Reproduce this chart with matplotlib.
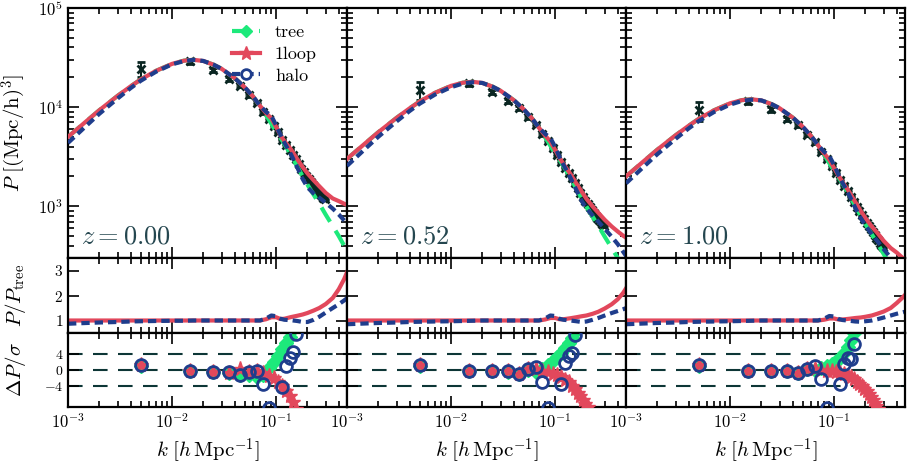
import numpy as np
import matplotlib
matplotlib.use('Agg')
import matplotlib.pyplot as plt
from matplotlib.lines import Line2D
from matplotlib.ticker import LogLocator, NullFormatter

plt.rcParams['font.family'] = 'serif'
plt.rcParams['font.serif'] = ['cmr10']
plt.rcParams['mathtext.fontset'] = 'cm'
plt.rcParams['axes.formatter.use_mathtext'] = True

# colours
c_tree = '#1de97b'
c_loop = '#e2485c'
c_halo = '#1f3d8c'
c_data = '#0a2622'
c_text = '#24464f'

redshift_labels = ['$z = 0.00$', '$z = 0.52$', '$z = 1.00$']

# model grid
k_grid = [0.001, 0.0015, 0.002, 0.003, 0.004, 0.005, 0.007, 0.01, 0.013, 0.016,
          0.02, 0.025, 0.03, 0.04, 0.05, 0.06, 0.07, 0.08, 0.09, 0.1, 0.11, 0.12,
          0.14, 0.16, 0.18, 0.2, 0.23, 0.26, 0.3, 0.35, 0.4, 0.45, 0.5]

tree_z0 = [5000, 7200, 9300, 13000, 16200, 19000, 23200, 27300, 29400, 30000,
           29200, 26800, 24300, 19600, 15800, 12800, 10300, 8300, 6800, 5600, 4900,
           4250, 3250, 2500, 2000, 1650, 1300, 1060, 820, 630, 500, 400, 325]
tree_z052 = [3000, 4320, 5580, 7800, 9720, 11400, 13920, 16380, 17640, 18000,
             17520, 16080, 14580, 11760, 9480, 7680, 6180, 4980, 4080, 3360, 2940,
             2550, 1950, 1500, 1200, 990, 780, 636, 492, 378, 300, 240, 195]
tree_z1 = [2000, 2880, 3720, 5200, 6480, 7600, 9280, 10920, 11760, 12000,
           11680, 10720, 9720, 7840, 6320, 5120, 4120, 3320, 2720, 2240, 1960,
           1700, 1300, 1000, 800, 660, 520, 424, 328, 252, 200, 160, 130]

# P / P_tree
loop_ratio_z0 = [1.0, 1.0, 1.0, 1.0, 1.0, 1.0, 1.0, 1.0, 1.0, 1.0, 1.0, 1.0, 1.0,
                 1.0, 1.0, 1.0, 1.0, 1.05, 1.13, 1.13, 1.06, 1.07, 1.14, 1.19, 1.24,
                 1.3, 1.4, 1.5, 1.66, 1.9, 2.25, 2.65, 3.1]
halo_ratio_z0 = [0.87, 0.9, 0.92, 0.94, 0.96, 0.97, 0.98, 0.99, 0.99, 1.0, 1.0,
                 1.0, 1.0, 1.0, 1.0, 1.0, 1.0, 1.08, 1.2, 1.17, 1.07, 1.03, 1.01,
                 0.98, 0.94, 0.94, 1.03, 1.15, 1.32, 1.5, 1.65, 1.8, 1.95]
loop_ratio_z052 = [1.0, 1.0, 1.0, 1.0, 1.0, 1.0, 1.0, 1.0, 1.0, 1.0, 1.0, 1.0, 1.0,
                   1.0, 1.0, 1.0, 1.0, 1.04, 1.1, 1.1, 1.05, 1.05, 1.09, 1.13, 1.17,
                   1.2, 1.27, 1.35, 1.48, 1.65, 1.85, 2.1, 2.4]
halo_ratio_z052 = [0.85, 0.88, 0.9, 0.92, 0.94, 0.95, 0.96, 0.97, 0.98, 0.99, 1.0,
                   1.0, 1.0, 1.0, 1.0, 1.0, 1.0, 1.08, 1.2, 1.18, 1.07, 1.03, 1.0,
                   0.97, 0.94, 0.96, 1.03, 1.1, 1.2, 1.3, 1.38, 1.45, 1.52]
loop_ratio_z1 = [1.0, 1.0, 1.0, 1.0, 1.0, 1.0, 1.0, 1.0, 1.0, 1.0, 1.0, 1.0, 1.0,
                 1.0, 1.0, 1.0, 1.0, 1.03, 1.08, 1.08, 1.04, 1.04, 1.07, 1.1, 1.12,
                 1.15, 1.2, 1.27, 1.36, 1.5, 1.7, 1.9, 2.1]
halo_ratio_z1 = [0.85, 0.88, 0.9, 0.92, 0.94, 0.95, 0.96, 0.97, 0.98, 0.99, 1.0,
                 1.0, 1.0, 1.0, 1.0, 1.0, 1.0, 1.07, 1.18, 1.16, 1.06, 1.02, 0.99,
                 0.96, 0.95, 0.97, 1.0, 1.05, 1.12, 1.2, 1.27, 1.32, 1.37]

# measured spectrum
k_data = [0.005, 0.015, 0.025, 0.035, 0.045, 0.055, 0.065, 0.075, 0.085, 0.095,
          0.105, 0.115, 0.125, 0.135, 0.145, 0.155, 0.165, 0.175, 0.185, 0.195,
          0.205, 0.215, 0.225, 0.235, 0.245, 0.255, 0.265, 0.275, 0.285, 0.295]

data_z0 = [24500, 28900, 23900, 19100, 16400, 13100, 11000, 8850, 7650, 6500,
           5550, 4700, 4170, 3720, 3300, 2960, 2650, 2390, 2200, 2010,
           1870, 1750, 1640, 1530, 1450, 1390, 1320, 1270, 1220, 1170]
err_z0 = [4200, 1500, 1100, 800, 600, 450, 350, 250, 180, 140, 110, 90, 70, 60, 50,
          45, 40, 35, 30, 28, 26, 24, 22, 20, 19, 18, 17, 16, 15, 15]
data_z052 = [14800, 17400, 14300, 11500, 9800, 7900, 6600, 5300, 4550, 3850,
             3280, 2780, 2450, 2170, 1920, 1710, 1530, 1370, 1250, 1140,
             1050, 980, 910, 850, 800, 760, 720, 690, 660, 630]
err_z052 = [3000, 1000, 700, 500, 380, 280, 220, 160, 110, 85, 66, 54, 42, 36, 30,
            27, 24, 21, 18, 17, 16, 14, 13, 12, 11, 11, 10, 10, 9, 9]
data_z1 = [9300, 11500, 9500, 7650, 6550, 5250, 4400, 3530, 3000, 2520,
           2150, 1830, 1610, 1420, 1250, 1110, 990, 890, 810, 740,
           680, 630, 585, 545, 510, 480, 452, 428, 405, 385]
err_z1 = [2000, 700, 480, 340, 260, 190, 150, 110, 75, 58, 45, 37, 29, 24, 20, 18,
          16, 14, 12, 11, 10, 9, 9, 8, 8, 7, 7, 7, 6, 6]

# Delta P / sigma
res_tree_z0 = [1.0, -0.3, -0.5, -0.8, -1.3, -1.2, -1.6, -1.2, 0.5, 2.0, 3.5, 5.0,
               6.5, 8.0, 10, 12, 14, 16, 18, 20, 22, 24, 26, 28, 30, 32, 34, 36, 38, 40]
res_loop_z0 = [1.1, -0.3, -0.5, -0.7, 0.3, -0.4, -0.2, -0.8, -1.5, -2.0, -2.8, -3.8,
               -5.0, -6.3, -7.8, -9.5, -11, -13, -15, -17, -19, -21, -23, -25, -27,
               -29, -31, -33, -35, -37]
res_halo_z0 = [1.2, -0.2, -0.4, -0.6, -1.2, -0.5, -0.2, -3.3, -9.2, -15, -15, -4.2,
               1.0, 3.0, 4.3, 8.8, 12, 15, 18, 21, 24, 27, 30, 33, 36, 39, 42, 45, 48, 51]
res_tree_z052 = [1.0, -0.2, -0.3, -0.4, -1.0, 0.0, -0.5, 0.2, 1.2, 2.2, 3.2, 4.2,
                 5.3, 6.5, 7.8, 9.2, 11, 13, 15, 17, 19, 21, 23, 25, 27, 29, 31, 33, 35, 37]
res_loop_z052 = [1.1, -0.2, -0.2, -0.3, -0.9, 0.2, 0.3, -0.3, -0.6, -0.9, -1.3, -1.8,
                 -2.4, -3.0, -3.8, -4.6, -5.5, -6.4, -7.3, -8.2, -9.1, -10, -11, -12,
                 -13, -14, -15, -16, -17, -18]
res_halo_z052 = [1.2, -0.2, -0.2, -0.3, -1.0, 0.3, 0.7, -2.9, -9.2, -15, -15, -3.4,
                 1.8, 3.3, 4.2, 8.5, 12, 14, 16, 18, 20, 22, 24, 26, 28, 30, 32, 34, 36, 38]
res_tree_z1 = [1.0, -0.2, -0.2, -0.3, -0.8, 0.2, 0.0, 0.5, 1.0, 1.5, 2.2, 3.0, 4.2,
               5.6, 7.2, 9.0, 11, 13, 15, 17, 19, 21, 23, 25, 27, 29, 31, 33, 35, 37]
res_loop_z1 = [1.1, -0.2, -0.2, -0.2, -0.7, 0.2, 0.3, -0.1, -0.2, -0.3, -0.5, -0.7,
               -1.0, -1.4, -1.8, -2.3, -2.8, -3.3, -3.9, -4.5, -5.2, -5.9, -6.6, -7.3,
               -8.0, -8.8, -9.6, -10.5, -11.5, -12.5]
res_halo_z1 = [1.2, -0.2, -0.2, -0.2, -0.8, 0.3, 0.9, -2.3, -9.2, -15, -15, -3.5,
               1.5, 2.8, 2.6, 6.3, 11, 14, 16, 18, 20, 22, 24, 26, 28, 30, 32, 34, 36, 38]

trees = [tree_z0, tree_z052, tree_z1]
loop_ratios = [loop_ratio_z0, loop_ratio_z052, loop_ratio_z1]
halo_ratios = [halo_ratio_z0, halo_ratio_z052, halo_ratio_z1]
datas = [data_z0, data_z052, data_z1]
errs = [err_z0, err_z052, err_z1]
res_trees = [res_tree_z0, res_tree_z052, res_tree_z1]
res_loops = [res_loop_z0, res_loop_z052, res_loop_z1]
res_halos = [res_halo_z0, res_halo_z052, res_halo_z1]

fig = plt.figure(figsize=(9.07, 4.67), dpi=100)
gs = fig.add_gridspec(3, 3, height_ratios=[250, 75, 74], hspace=0, wspace=0,
                      left=68/907, right=905/907, top=1-8/467, bottom=1-407/467)

kmin, kmax = 1e-3, 0.48
ylab_x = -0.145

def style(ax, labelsize):
    ax.set_xscale('log')
    ax.set_xlim(kmin, kmax)
    ax.xaxis.set_major_locator(LogLocator(base=10, numticks=10))
    ax.xaxis.set_minor_locator(LogLocator(base=10, subs=np.arange(2, 10), numticks=10))
    ax.xaxis.set_minor_formatter(NullFormatter())
    ax.tick_params(which='both', direction='in', top=True, right=True, width=1.2)
    ax.tick_params(which='major', length=8, labelsize=labelsize)
    ax.tick_params(which='minor', length=4)
    for s in ax.spines.values():
        s.set_linewidth(1.6)

k_g = np.array(k_grid)
for col in range(3):
    tree = np.array(trees[col])
    lr = np.array(loop_ratios[col])
    hr = np.array(halo_ratios[col])

    # main panel
    ax = fig.add_subplot(gs[0, col])
    ax.errorbar(k_data, datas[col], yerr=errs[col], fmt='x', color=c_data, ms=6,
                mew=2, elinewidth=1.5, capsize=3, capthick=1.5, zorder=2)
    ax.plot(k_g, tree, '--', color=c_tree, lw=3, dashes=(4, 2.5), zorder=3)
    ax.plot(k_g, tree * lr, '-', color=c_loop, lw=3, zorder=4)
    ax.plot(k_g, tree * hr, '--', color=c_halo, lw=3, dashes=(2, 1.2), zorder=5)
    ax.set_yscale('log')
    ax.set_ylim(300, 1e5)
    style(ax, 12)
    ax.tick_params(labelbottom=False)
    ax.text(0.045, 0.04, redshift_labels[col], transform=ax.transAxes, fontsize=19,
            color=c_text, ha='left', va='bottom')
    if col == 0:
        ax.set_ylabel(r'$P\ [(\mathrm{Mpc/h})^3]$', fontsize=15)
        ax.yaxis.set_label_coords(ylab_x, 0.5)
        handles = [
            Line2D([], [], color=c_tree, ls='--', lw=3, dashes=(4, 2.5), marker='D', ms=6),
            Line2D([], [], color=c_loop, ls='-', lw=3, marker='*', ms=10),
            Line2D([], [], color=c_halo, ls='--', lw=3, dashes=(2, 1.2), marker='o',
                   ms=7, mfc='white', mew=2),
        ]
        ax.legend(handles, ['tree', '1loop', 'halo'], loc='upper right',
                  bbox_to_anchor=(0.95, 1.0), frameon=False, fontsize=13,
                  handlelength=1.6, labelspacing=0.35, handletextpad=0.8)
    else:
        ax.tick_params(labelleft=False)

    # ratio panel
    axr = fig.add_subplot(gs[1, col])
    axr.plot(k_g, lr, '-', color=c_loop, lw=3)
    axr.plot(k_g, hr, '--', color=c_halo, lw=3, dashes=(2, 1.2))
    axr.set_ylim(0.5, 3.5)
    axr.set_yticks([1, 2, 3])
    style(axr, 11)
    axr.tick_params(labelbottom=False)
    if col == 0:
        axr.set_ylabel(r'$P/P_{\rm tree}$', fontsize=15)
        axr.yaxis.set_label_coords(ylab_x, 0.5)
    else:
        axr.tick_params(labelleft=False)

    # residual panel
    axs = fig.add_subplot(gs[2, col])
    for lev in [4, 0, -4]:
        axs.axhline(lev, color='#0d3636', lw=1.5, dashes=(7, 5), zorder=1)
    axs.plot(k_data, res_trees[col], 'D', color=c_tree, ms=7, zorder=2)
    axs.plot(k_data, res_loops[col], '*', color=c_loop, ms=11, zorder=3)
    axs.plot(k_data, res_halos[col], 'o', color=c_halo, mfc='none', ms=8.5, mew=2, zorder=4)
    axs.set_ylim(-9, 9)
    axs.set_yticks([-4, 0, 4])
    style(axs, 12)
    axs.tick_params(axis='y', labelsize=10)
    axs.set_xlabel(r'$k\ [h\,\mathrm{Mpc}^{-1}]$', fontsize=15)
    if col == 0:
        axs.set_ylabel(r'$\Delta P/\sigma$', fontsize=15)
        axs.yaxis.set_label_coords(ylab_x, 0.5)
    else:
        axs.tick_params(labelleft=False)

fig.savefig('out.png', dpi=100)
